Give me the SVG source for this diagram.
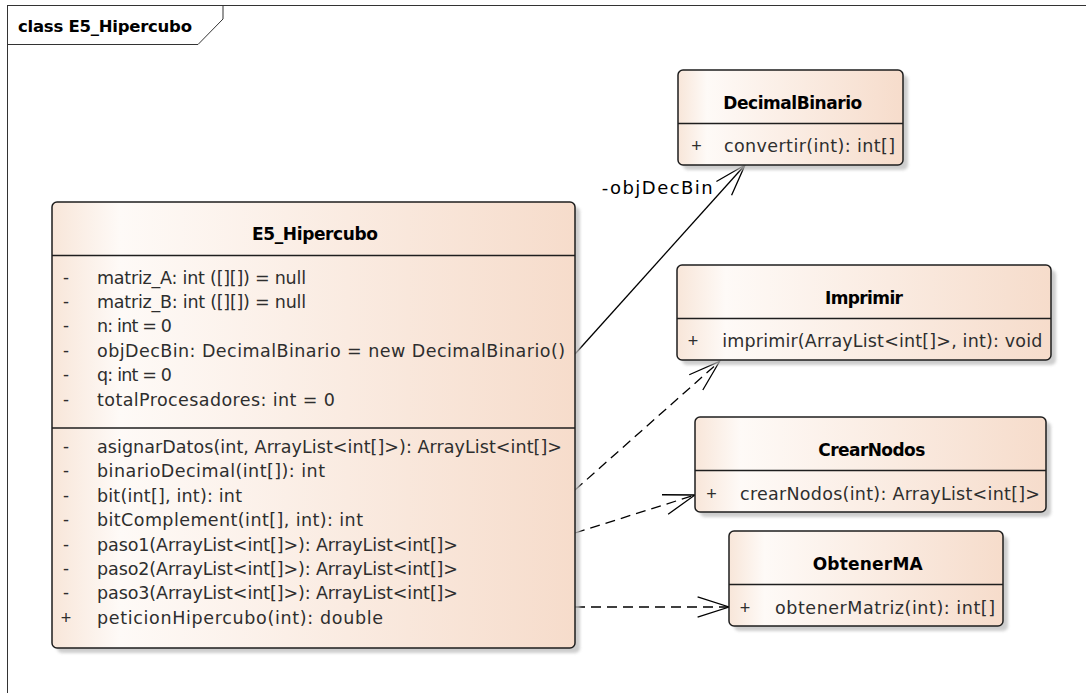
<svg xmlns="http://www.w3.org/2000/svg" width="1086" height="693" viewBox="0 0 1086 693">
<defs>
<linearGradient id="g" x1="0" y1="0" x2="1" y2="0">
<stop offset="0" stop-color="#f8e6d9"/>
<stop offset="0.13" stop-color="#fefaf7"/>
<stop offset="1" stop-color="#f6dccb"/>
</linearGradient>
<filter id="blur" x="-5%" y="-5%" width="110%" height="110%"><feGaussianBlur stdDeviation="1.5"/></filter>
<marker id="open" markerUnits="userSpaceOnUse" markerWidth="40" markerHeight="30" viewBox="-35 -15 40 30" refX="0" refY="0" orient="auto" overflow="visible">
<path d="M-31.4,-10.2 L0,0 L-31.4,10.2" fill="none" stroke="#000" stroke-width="1.3"/>
</marker>
</defs>
<style>
.frame{fill:none;stroke:#333;stroke-width:1}
.box{fill:url(#g);stroke:#1e1e1e;stroke-width:1.5}
.shadow{fill:#bdbdbd;opacity:0.75;filter:url(#blur)}
.sep{stroke:#1e1e1e;stroke-width:1.5}
.t{font-family:'DejaVu Sans','Liberation Sans',sans-serif;font-size:17px;font-weight:bold;fill:#000}
.m{font-family:'DejaVu Sans','Liberation Sans',sans-serif;font-size:17.5px;fill:#2e2e2e}
.v{font-family:'Liberation Sans',sans-serif;font-size:18px;fill:#2e2e2e;text-anchor:middle}
.lbl{font-family:'DejaVu Sans','Liberation Sans',sans-serif;font-size:18px;fill:#000}
.conn{fill:none;stroke:#000;stroke-width:1.3}
.dash{stroke-dasharray:10 6}
</style>
<rect width="1086" height="693" fill="#fff"/>
<g id="frame">
<rect class="frame" x="7.5" y="5.5" width="1100" height="710"/>
<path class="frame" d="M7.5,44.5 H198 L223,19 V5.5"/>
<text class="t" x="18" y="32" textLength="174" lengthAdjust="spacing" style="font-size:16.5px">class E5_Hipercubo</text>
</g>

<g id="connectors">
<path class="conn" d="M575,354 L745,165" marker-end="url(#open)"/>
<path class="conn dash" d="M575,490 L719.5,361.5" marker-end="url(#open)"/>
<path class="conn dash" d="M575,533 L695,495" marker-end="url(#open)"/>
<path class="conn dash" d="M575,607 L729,607" marker-end="url(#open)"/>
<text class="lbl" x="601.7" y="194" textLength="111" lengthAdjust="spacing">-objDecBin</text>
</g>

<g id="E5_Hipercubo">
<rect class="shadow" x="57" y="207" width="523" height="446" rx="5"/>
<rect class="box" x="52" y="202" width="523" height="446" rx="5"/>
<line class="sep" x1="52" y1="255.5" x2="575" y2="255.5"/>
<line class="sep" x1="52" y1="428" x2="575" y2="428"/>
<text class="t" x="252" y="240" textLength="126" lengthAdjust="spacing">E5_Hipercubo</text>
<text class="v" x="66" y="283.5">-</text>
<text class="m" x="97" y="283.5" textLength="209" lengthAdjust="spacing">matriz_A: int ([][]) = null</text>
<text class="v" x="66" y="307.9">-</text>
<text class="m" x="97" y="307.9" textLength="209" lengthAdjust="spacing">matriz_B: int ([][]) = null</text>
<text class="v" x="66" y="332.3">-</text>
<text class="m" x="97" y="332.3" textLength="75" lengthAdjust="spacing">n: int = 0</text>
<text class="v" x="66" y="356.7">-</text>
<text class="m" x="97" y="356.7" textLength="468" lengthAdjust="spacing">objDecBin: DecimalBinario = new DecimalBinario()</text>
<text class="v" x="66" y="381.1">-</text>
<text class="m" x="97" y="381.1" textLength="75" lengthAdjust="spacing">q: int = 0</text>
<text class="v" x="66" y="405.5">-</text>
<text class="m" x="97" y="405.5" textLength="238" lengthAdjust="spacing">totalProcesadores: int = 0</text>
<text class="v" x="66" y="453">-</text>
<text class="m" x="97" y="453" textLength="465" lengthAdjust="spacing">asignarDatos(int, ArrayList&lt;int[]&gt;): ArrayList&lt;int[]&gt;</text>
<text class="v" x="66" y="477.4">-</text>
<text class="m" x="97" y="477.4" textLength="228" lengthAdjust="spacing">binarioDecimal(int[]): int</text>
<text class="v" x="66" y="501.8">-</text>
<text class="m" x="97" y="501.8" textLength="145" lengthAdjust="spacing">bit(int[], int): int</text>
<text class="v" x="66" y="526.2">-</text>
<text class="m" x="97" y="526.2" textLength="266" lengthAdjust="spacing">bitComplement(int[], int): int</text>
<text class="v" x="66" y="550.6">-</text>
<text class="m" x="97" y="550.6" textLength="361" lengthAdjust="spacing">paso1(ArrayList&lt;int[]&gt;): ArrayList&lt;int[]&gt;</text>
<text class="v" x="66" y="575">-</text>
<text class="m" x="97" y="575" textLength="361" lengthAdjust="spacing">paso2(ArrayList&lt;int[]&gt;): ArrayList&lt;int[]&gt;</text>
<text class="v" x="66" y="599.4">-</text>
<text class="m" x="97" y="599.4" textLength="361" lengthAdjust="spacing">paso3(ArrayList&lt;int[]&gt;): ArrayList&lt;int[]&gt;</text>
<text class="v" x="66" y="623.8">+</text>
<text class="m" x="97" y="623.8" textLength="286" lengthAdjust="spacing">peticionHipercubo(int): double</text>
</g>

<g id="DecimalBinario">
<rect class="shadow" x="683" y="75" width="225" height="95" rx="5"/>
<rect class="box" x="678" y="70" width="225" height="95" rx="5"/>
<line class="sep" x1="678" y1="123.5" x2="903" y2="123.5"/>
<text class="t" x="723.3" y="108.5" textLength="139" lengthAdjust="spacing">DecimalBinario</text>
<text class="v" x="696.5" y="152">+</text>
<text class="m" x="724" y="152" textLength="171" lengthAdjust="spacing">convertir(int): int[]</text>
</g>

<g id="Imprimir">
<rect class="shadow" x="682" y="270" width="374" height="95" rx="5"/>
<rect class="box" x="677" y="265" width="374" height="95" rx="5"/>
<line class="sep" x1="677" y1="318.5" x2="1051" y2="318.5"/>
<text class="t" x="825" y="303.5" textLength="78" lengthAdjust="spacing">Imprimir</text>
<text class="v" x="693" y="347">+</text>
<text class="m" x="722.3" y="347" textLength="320" lengthAdjust="spacing">imprimir(ArrayList&lt;int[]&gt;, int): void</text>
</g>

<g id="CrearNodos">
<rect class="shadow" x="700" y="422" width="351" height="95" rx="5"/>
<rect class="box" x="695" y="417" width="351" height="95" rx="5"/>
<line class="sep" x1="695" y1="470.5" x2="1046" y2="470.5"/>
<text class="t" x="818.3" y="455.5" textLength="107" lengthAdjust="spacing">CrearNodos</text>
<text class="v" x="711.5" y="499.5">+</text>
<text class="m" x="740" y="499.5" textLength="300" lengthAdjust="spacing">crearNodos(int): ArrayList&lt;int[]&gt;</text>
</g>

<g id="ObtenerMA">
<rect class="shadow" x="734" y="536" width="274" height="95" rx="5"/>
<rect class="box" x="729" y="531" width="274" height="95" rx="5"/>
<line class="sep" x1="729" y1="584.5" x2="1003" y2="584.5"/>
<text class="t" x="812.7" y="569.5" textLength="110" lengthAdjust="spacing">ObtenerMA</text>
<text class="v" x="745" y="613.5">+</text>
<text class="m" x="775" y="613.5" textLength="220" lengthAdjust="spacing">obtenerMatriz(int): int[]</text>
</g>
</svg>
